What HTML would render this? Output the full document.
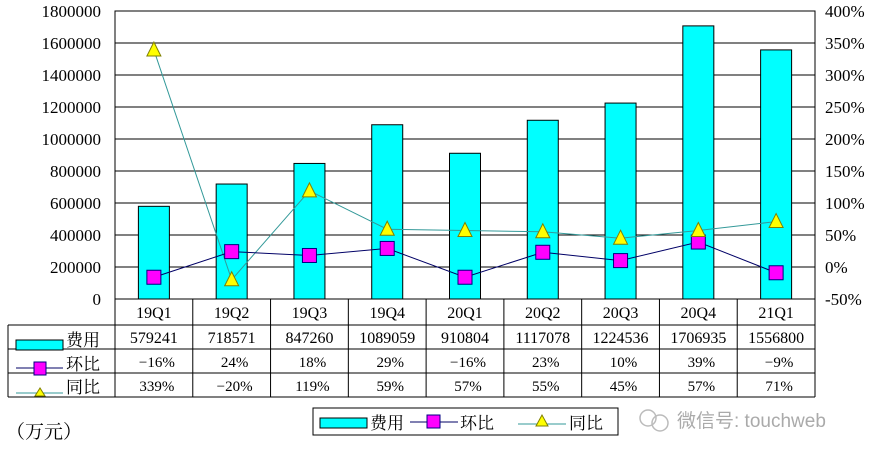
<!DOCTYPE html>
<html><head><meta charset="utf-8"><style>
body{margin:0;background:#fff;}
svg{display:block;font-family:"Liberation Serif","Noto Serif CJK SC","Noto Sans CJK SC",serif;}
</style></head><body>
<svg id="c" width="883" height="457"></svg>
<script>
const categories=["19Q1","19Q2","19Q3","19Q4","20Q1","20Q2","20Q3","20Q4","21Q1"];
const expense=[579241,718571,847260,1089059,910804,1117078,1224536,1706935,1556800];
const qoq=[-16,24,18,29,-16,23,10,39,-9];
const yoy=[339,-20,119,59,57,55,45,57,71];
const leftTicks=[0,200000,400000,600000,800000,1000000,1200000,1400000,1600000,1800000];
const rightTicks=[-50,0,50,100,150,200,250,300,350,400];
const NS="http://www.w3.org/2000/svg";
const svg=document.getElementById('c');
function el(t,a,txt){const e=document.createElementNS(NS,t);for(const k in a)e.setAttribute(k,a[k]);if(txt!==undefined)e.textContent=txt;svg.appendChild(e);return e;}
const L=115,R=815,T=11,B=299;
const yL=v=>B-(v/1800000)*(B-T);
const yR=v=>B-((v+50)/450)*(B-T);
const cw=(R-L)/categories.length;
const xC=i=>L+cw*(i+0.5);
// grid
leftTicks.forEach(v=>{if(v>0){const g=el('line',{x1:L,x2:R,y1:yL(v),y2:yL(v),stroke:'#000','stroke-width':1});

}
const t=el('text',{x:L-14,y:yL(v)+6,'text-anchor':'end','font-size':17,fill:'#000'},v);

});
rightTicks.forEach(v=>{const t=el('text',{x:R+10,y:yR(v)+6,'font-size':17,fill:'#000'},v+'%');

});
el('rect',{x:L,y:T,width:R-L,height:B-T,fill:'none',stroke:'#000','stroke-width':1});
// bars
expense.forEach((v,i)=>{const b=el('rect',{x:xC(i)-15.5,y:yL(v),width:31,height:B-yL(v),fill:'#00ffff',stroke:'#000','stroke-width':1});

});
// lines
const yp=el('polyline',{points:yoy.map((v,i)=>xC(i)+','+yR(v)).join(' '),fill:'none',stroke:'#339999','stroke-width':1});


const qp=el('polyline',{points:qoq.map((v,i)=>xC(i)+','+yR(v)).join(' '),fill:'none',stroke:'#000066','stroke-width':1});


qoq.forEach((v,i)=>{const m=el('rect',{x:xC(i)-7,y:yR(v)-7,width:14,height:14,fill:'#ff00ff',stroke:'#000080','stroke-width':1});

});
yoy.forEach((v,i)=>{const x=xC(i),y=yR(v);const m=el('polygon',{points:`${x},${y-8} ${x-7},${y+6} ${x+7},${y+6}`,fill:'#ffff00',stroke:'#808000','stroke-width':1});

});
// table
const rows=[B,325,349,373,397];
el('line',{x1:8,x2:R,y1:325,y2:325,stroke:'#000'});
el('line',{x1:8,x2:R,y1:397,y2:397,stroke:'#000'});
el('line',{x1:8,x2:8,y1:325,y2:397,stroke:'#000'});
el('line',{x1:R,x2:R,y1:B,y2:397,stroke:'#000'});
[349,373].forEach(y=>el('line',{x1:8,x2:R,y1:y,y2:y,stroke:'#000'}));
for(let k=0;k<categories.length;k++){el('line',{x1:L+cw*k,x2:L+cw*k,y1:B,y2:397,stroke:'#000'});}
categories.forEach((c,i)=>{
const a=el('text',{x:xC(i),y:318,'text-anchor':'middle','font-size':16},c);
const b=el('text',{x:xC(i),y:343,'text-anchor':'middle','font-size':16},expense[i]);
const d=el('text',{x:xC(i)+3,y:367,'text-anchor':'middle','font-size':15},(qoq[i]<0?'\u2212':'')+Math.abs(qoq[i])+'%');
const e=el('text',{x:xC(i)+3,y:391,'text-anchor':'middle','font-size':15},(yoy[i]<0?'\u2212':'')+Math.abs(yoy[i])+'%');});
// table row keys
el('rect',{x:16,y:340,width:47,height:10,fill:'#00ffff',stroke:'#000'});
el('text',{x:66,y:346,'font-size':17},'费用');
el('line',{x1:16,x2:63,y1:368,y2:368,stroke:'#000066'});
el('rect',{x:34,y:362,width:12,height:13,fill:'#ff00ff',stroke:'#000080'});
el('text',{x:66,y:370,'font-size':17},'环比');
el('line',{x1:16,x2:63,y1:393,y2:393,stroke:'#339999'});
el('polygon',{points:'40,388 35,396 45,396',fill:'#ffff00',stroke:'#808000'});
el('text',{x:66,y:393,'font-size':17},'同比');
// legend
const lg=el('rect',{x:313,y:408,width:305,height:27,fill:'#fff',stroke:'#000'});


el('rect',{x:320,y:418,width:47,height:10,fill:'#00ffff',stroke:'#000'});
el('text',{x:370,y:429,'font-size':17},'费用');
el('line',{x1:410,x2:458,y1:422,y2:422,stroke:'#000066'});
el('rect',{x:427,y:415,width:13,height:13,fill:'#ff00ff',stroke:'#000080'});
el('text',{x:460,y:429,'font-size':17},'环比');
el('line',{x1:518,x2:566,y1:424,y2:424,stroke:'#339999'});
el('polygon',{points:'542,415 536,426 548,426',fill:'#ffff00',stroke:'#808000'});
el('text',{x:569,y:429,'font-size':17},'同比');
const u=el('text',{x:6,y:438,'font-size':19},'（万元）');
// watermark
el('circle',{x:0,cx:648,cy:418,r:8,fill:'none',stroke:'#bbb','stroke-width':1.5});
el('circle',{cx:660,cy:423,r:8,fill:'none',stroke:'#bbb','stroke-width':1.5});
const w=el('text',{x:677,y:427,'font-size':19,fill:'#aaa','font-family':'Liberation Sans, Noto Sans CJK SC, sans-serif'},'微信号: touchweb');

</script>
</body></html>
